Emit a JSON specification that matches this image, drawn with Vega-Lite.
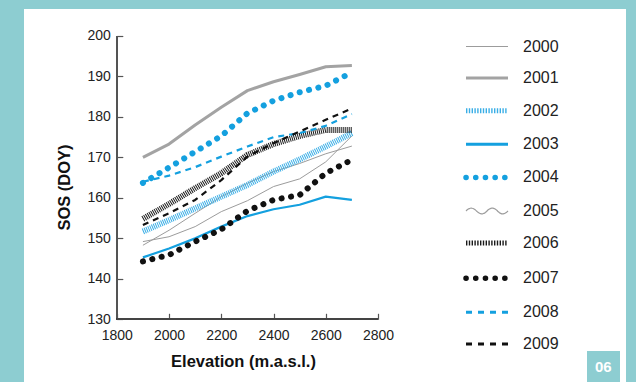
{
  "$schema": "https://vega.github.io/schema/vega-lite/v6.json",
  "width": 602,
  "height": 373,
  "autosize": {"type": "none"},
  "padding": {"left": 24, "top": 9, "right": 10, "bottom": 0},
  "background": "#8dcdd1",
  "config": {
    "view": {"fill": "white", "stroke": null},
    "axis": {
      "grid": false,
      "domain": false,
      "labelFont": "Liberation Sans",
      "labelFontSize": 14,
      "labelColor": "#222222",
      "tickColor": "#555555",
      "tickSize": -6,
      "tickWidth": 1.2,
      "titleFont": "Liberation Sans",
      "titleFontWeight": "bold",
      "titleFontSize": 16.5,
      "titleColor": "#111111"
    }
  },
  "datasets": {
    "sos": [
      {"year": "2000", "elev": 1900, "sos": 149.2}, {"year": "2000", "elev": 2000, "sos": 150.4}, {"year": "2000", "elev": 2100, "sos": 152.9}, {"year": "2000", "elev": 2200, "sos": 156.6}, {"year": "2000", "elev": 2300, "sos": 159.3}, {"year": "2000", "elev": 2400, "sos": 162.8}, {"year": "2000", "elev": 2500, "sos": 164.7}, {"year": "2000", "elev": 2600, "sos": 168.9}, {"year": "2000", "elev": 2700, "sos": 175.3},
      {"year": "2001", "elev": 1900, "sos": 170.0}, {"year": "2001", "elev": 2000, "sos": 173.3}, {"year": "2001", "elev": 2100, "sos": 178.0}, {"year": "2001", "elev": 2200, "sos": 182.4}, {"year": "2001", "elev": 2300, "sos": 186.5}, {"year": "2001", "elev": 2400, "sos": 188.7}, {"year": "2001", "elev": 2500, "sos": 190.5}, {"year": "2001", "elev": 2600, "sos": 192.4}, {"year": "2001", "elev": 2700, "sos": 192.7},
      {"year": "2002", "elev": 1900, "sos": 151.7}, {"year": "2002", "elev": 2000, "sos": 154.5}, {"year": "2002", "elev": 2100, "sos": 157.4}, {"year": "2002", "elev": 2200, "sos": 160.3}, {"year": "2002", "elev": 2300, "sos": 163.2}, {"year": "2002", "elev": 2400, "sos": 166.5}, {"year": "2002", "elev": 2500, "sos": 169.5}, {"year": "2002", "elev": 2600, "sos": 172.7}, {"year": "2002", "elev": 2700, "sos": 176.0},
      {"year": "2003", "elev": 1900, "sos": 145.3}, {"year": "2003", "elev": 2000, "sos": 147.5}, {"year": "2003", "elev": 2100, "sos": 150.0}, {"year": "2003", "elev": 2200, "sos": 152.9}, {"year": "2003", "elev": 2300, "sos": 155.5}, {"year": "2003", "elev": 2400, "sos": 157.2}, {"year": "2003", "elev": 2500, "sos": 158.3}, {"year": "2003", "elev": 2600, "sos": 160.3}, {"year": "2003", "elev": 2700, "sos": 159.5},
      {"year": "2004", "elev": 1900, "sos": 163.7}, {"year": "2004", "elev": 2000, "sos": 167.5}, {"year": "2004", "elev": 2100, "sos": 171.4}, {"year": "2004", "elev": 2200, "sos": 175.3}, {"year": "2004", "elev": 2300, "sos": 180.9}, {"year": "2004", "elev": 2400, "sos": 184.0}, {"year": "2004", "elev": 2500, "sos": 186.1}, {"year": "2004", "elev": 2600, "sos": 187.7}, {"year": "2004", "elev": 2700, "sos": 191.0},
      {"year": "2005", "elev": 1900, "sos": 148.3}, {"year": "2005", "elev": 2000, "sos": 152.0}, {"year": "2005", "elev": 2100, "sos": 156.2}, {"year": "2005", "elev": 2200, "sos": 160.3}, {"year": "2005", "elev": 2300, "sos": 163.6}, {"year": "2005", "elev": 2400, "sos": 166.5}, {"year": "2005", "elev": 2500, "sos": 168.5}, {"year": "2005", "elev": 2600, "sos": 170.9}, {"year": "2005", "elev": 2700, "sos": 172.8},
      {"year": "2006", "elev": 1900, "sos": 154.8}, {"year": "2006", "elev": 2000, "sos": 158.5}, {"year": "2006", "elev": 2100, "sos": 162.4}, {"year": "2006", "elev": 2200, "sos": 166.1}, {"year": "2006", "elev": 2300, "sos": 170.6}, {"year": "2006", "elev": 2400, "sos": 173.3}, {"year": "2006", "elev": 2500, "sos": 175.3}, {"year": "2006", "elev": 2600, "sos": 176.8}, {"year": "2006", "elev": 2700, "sos": 176.8},
      {"year": "2007", "elev": 1900, "sos": 144.3}, {"year": "2007", "elev": 2000, "sos": 145.9}, {"year": "2007", "elev": 2100, "sos": 149.2}, {"year": "2007", "elev": 2200, "sos": 152.2}, {"year": "2007", "elev": 2300, "sos": 156.8}, {"year": "2007", "elev": 2400, "sos": 159.5}, {"year": "2007", "elev": 2500, "sos": 160.7}, {"year": "2007", "elev": 2600, "sos": 166.1}, {"year": "2007", "elev": 2700, "sos": 169.4},
      {"year": "2008", "elev": 1900, "sos": 164.0}, {"year": "2008", "elev": 2000, "sos": 165.5}, {"year": "2008", "elev": 2100, "sos": 167.6}, {"year": "2008", "elev": 2200, "sos": 170.2}, {"year": "2008", "elev": 2300, "sos": 172.7}, {"year": "2008", "elev": 2400, "sos": 175.0}, {"year": "2008", "elev": 2500, "sos": 176.0}, {"year": "2008", "elev": 2600, "sos": 177.8}, {"year": "2008", "elev": 2700, "sos": 180.7},
      {"year": "2009", "elev": 1900, "sos": 153.3}, {"year": "2009", "elev": 2000, "sos": 156.2}, {"year": "2009", "elev": 2100, "sos": 159.5}, {"year": "2009", "elev": 2200, "sos": 164.4}, {"year": "2009", "elev": 2300, "sos": 170.2}, {"year": "2009", "elev": 2400, "sos": 173.5}, {"year": "2009", "elev": 2500, "sos": 176.4}, {"year": "2009", "elev": 2600, "sos": 179.3}, {"year": "2009", "elev": 2700, "sos": 182.1}
    ]
  },
  "data": {"name": "sos"},
  "encoding": {
    "x": {
      "field": "elev", "type": "quantitative",
      "scale": {"domain": [1444.7, 3749.5], "nice": false, "zero": false},
      "axis": {
        "title": "Elevation (m.a.s.l.)",
        "values": [1800, 2000, 2200, 2400, 2600, 2800],
        "format": "d",
        "offset": -62.7,
        "labelPadding": 15,
        "titleX": 219, "titleY": 47.4, "titleBaseline": "alphabetic", "titleAnchor": null, "titleAlign": "center"
      }
    },
    "y": {
      "field": "sos", "type": "quantitative",
      "scale": {"domain": [114.51, 206.67], "nice": false, "zero": false},
      "axis": {
        "title": "SOS (DOY)",
        "values": [130, 140, 150, 160, 170, 180, 190, 200],
        "offset": -92.8,
        "labelPadding": 12.5,
        "titleX": -52.8, "titleY": 178, "titleBaseline": "middle", "titleAngle": -90, "titleAlign": "center"
      }
    },
    "color": {
      "field": "year", "type": "nominal",
      "scale": {"domain": ["2000","2001","2002","2003","2004","2005","2006","2007","2008","2009"],
                "range": ["#9c9c9c","#a3a3a3","#3aaee6","#14a0df","#14a0df","#9c9c9c","#1a1a1a","#111111","#14a0df","#111111"]},
      "legend": {
        "title": null,
        "orient": "none",
        "legendX": 439,
        "legendY": 16,
        "padding": 0,
        "symbolSize": 1764,
        "symbolType": "stroke",
        "labelFont": "Liberation Sans",
        "labelFontSize": 16,
        "labelColor": "#222222",
        "labelOffset": 12,
        "rowPadding": 0.6,
        "encode": {
          "symbols": {
            "update": {
              "shape": {"signal": "datum.value === '2005' ? 'M-1,0C-0.83,-0.18,-0.67,-0.18,-0.5,0C-0.33,0.18,-0.17,0.18,0,0C0.17,-0.18,0.33,-0.18,0.5,0C0.67,0.18,0.83,0.18,1,0' : 'stroke'"},
              "strokeCap": {"signal": "datum.value === '2004' || datum.value === '2007' ? 'round' : 'butt'"},
              "strokeWidth": {"signal": "[1, 3, 5, 3, 5.5, 1.2, 5, 5.5, 3, 3][indexof(['2000','2001','2002','2003','2004','2005','2006','2007','2008','2009'], isString(datum) ? datum : datum.value)]"},
              "strokeDash": {"signal": "[[1,0],[1,0],[1.4,1.4],[1,0],[0.1,9.6],[1,0],[1.4,1.4],[0.1,9.6],[6,6],[6,6]][indexof(['2000','2001','2002','2003','2004','2005','2006','2007','2008','2009'], datum.value)]"},
              "fill": {"value": "transparent"}
            }
          }
        }
      }
    },
    "detail": {"field": "year"}
  },
  "layer": [
    {
      "mark": {"type": "rule", "color": "#555555", "strokeWidth": 1.3},
      "encoding": {
        "x": {"datum": 1800, "type": "quantitative"},
        "y": {"datum": 130, "type": "quantitative"},
        "y2": {"datum": 200},
        "color": null,
        "detail": null
      }
    },
    {
      "mark": {"type": "rule", "color": "#444444", "strokeWidth": 1.3},
      "encoding": {
        "x": {"datum": 1800, "type": "quantitative"},
        "x2": {"datum": 2800},
        "y": {"datum": 130, "type": "quantitative"},
        "color": null,
        "detail": null
      }
    },
    {
      "transform": [{"filter": "datum.year === '2000' || datum.year === '2005'"}],
      "mark": {"type": "line", "strokeWidth": 1, "strokeJoin": "round"},
      "encoding": {}
    },
    {
      "transform": [{"filter": "datum.year === '2001'"}],
      "mark": {"type": "line", "strokeWidth": 3, "strokeJoin": "round"},
      "encoding": {}
    },
    {
      "transform": [{"filter": "datum.year === '2002' || datum.year === '2006'"}],
      "mark": {"type": "line", "strokeWidth": 6, "strokeDash": [1, 1], "strokeCap": "butt", "strokeJoin": "round"},
      "encoding": {}
    },
    {
      "transform": [{"filter": "datum.year === '2003'"}],
      "mark": {"type": "line", "strokeWidth": 2.2, "strokeJoin": "round"},
      "encoding": {}
    },
    {
      "transform": [{"filter": "datum.year === '2008' || datum.year === '2009'"}],
      "mark": {"type": "line", "strokeWidth": 2.2, "strokeDash": [6, 5], "strokeCap": "butt", "strokeJoin": "round"},
      "encoding": {}
    },
    {
      "transform": [{"filter": "datum.year === '2004' || datum.year === '2007'"}],
      "mark": {"type": "line", "strokeWidth": 6, "strokeDash": [0.1, 9.5], "strokeCap": "round", "strokeJoin": "round"},
      "encoding": {}
    },
    {
      "transform": [{"filter": "false"}],
      "mark": {"type": "point"},
      "encoding": {
        "color": null,
        "detail": null,
        "fill": {
          "datum": "06", "type": "nominal",
          "scale": {"range": ["#8dcdd1"]},
          "legend": {
            "title": null,
            "orient": "none",
            "legendX": 563,
            "legendY": 342,
            "padding": 8,
            "fillColor": "#8dcdd1",
            "symbolSize": 0,
            "symbolOpacity": 0,
            "symbolStrokeWidth": 0,
            "labelOffset": -15,
            "labelColor": "white",
            "labelFont": "Liberation Sans",
            "labelFontWeight": "bold",
            "labelFontSize": 15
          }
        }
      }
    }
  ]
}
